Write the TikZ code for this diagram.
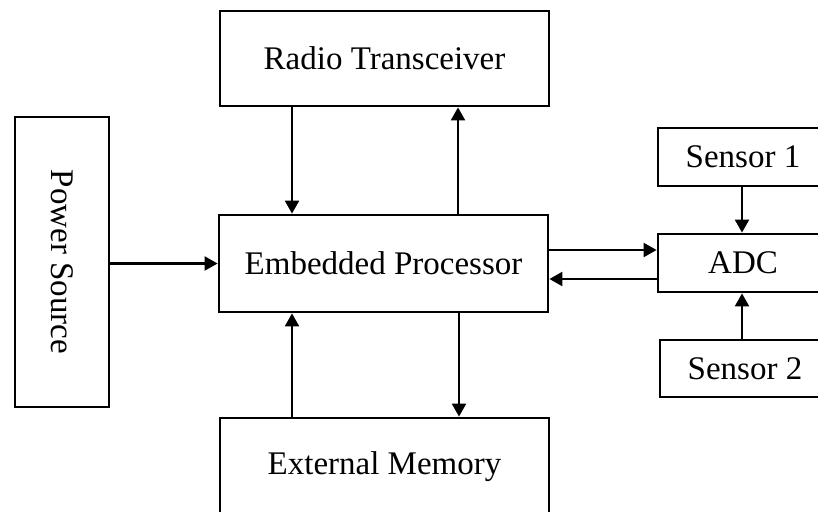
\documentclass[tikz,border=0pt]{standalone}
\usepackage{fontspec}
\setmainfont{Liberation Serif}
\usetikzlibrary{arrows.meta}
\begin{document}
\begin{tikzpicture}[x=1pt,y=-1pt,
  blk/.style={draw, line width=2.8pt, minimum width=#1, inner sep=0pt, font=\fontsize{33}{38}\selectfont, fill=white},
  conn/.style={line width=2.2pt, -{Triangle[length=13pt,width=14pt]}}]
\useasboundingbox (0,0) rectangle (818,511);
\clip (0,0) rectangle (818,511);
\node[blk=329pt, minimum height=95pt] (radio) at (384.5,58.5) {Radio Transceiver};
\node[blk=329pt, minimum height=97pt] (emb) at (383.5,263.5) {Embedded Processor};
\node[blk=329pt, minimum height=97pt] (mem) at (384.5,466.5) {External Memory};
\node[blk=94pt, minimum height=290pt] (power) at (62,262) {\rotatebox{-90}{Power Source}};
\node[blk=170pt, minimum height=58pt] (s1) at (743,157) {Sensor 1};
\node[blk=170pt, minimum height=58pt] (adc) at (743,263) {ADC};
\node[blk=170pt, minimum height=57pt] (s2) at (745,368.5) {Sensor 2};
% radio <-> embedded
\draw[conn] ([xshift=-92.5pt]radio.south) -- ([xshift=-91.5pt]emb.north);
\draw[conn] ([xshift=74.5pt]emb.north) -- ([xshift=73.5pt]radio.south);
% embedded <-> memory
\draw[conn] ([xshift=-91.5pt]emb.south |- mem.north) -- ([xshift=-91.5pt]emb.south);
\draw[conn] ([xshift=75.5pt]emb.south) -- ([xshift=75.5pt]emb.south |- mem.north);
% power -> embedded
\draw[conn] (power.east |- emb.west) -- (emb.west);
% embedded <-> adc
\draw[conn] ([yshift=13.5pt]emb.east) -- ([yshift=13.5pt]emb.east -| adc.west);
\draw[conn] ([yshift=-15.5pt]emb.east -| adc.west) -- ([yshift=-15.5pt]emb.east);
% sensors -> adc
\draw[conn] ([xshift=-1pt]s1.south) -- ([xshift=-1pt]s1.south |- adc.north);
\draw[conn] ([xshift=-1pt]adc.south |- s2.north) -- ([xshift=-1pt]adc.south);
\end{tikzpicture}
\end{document}
